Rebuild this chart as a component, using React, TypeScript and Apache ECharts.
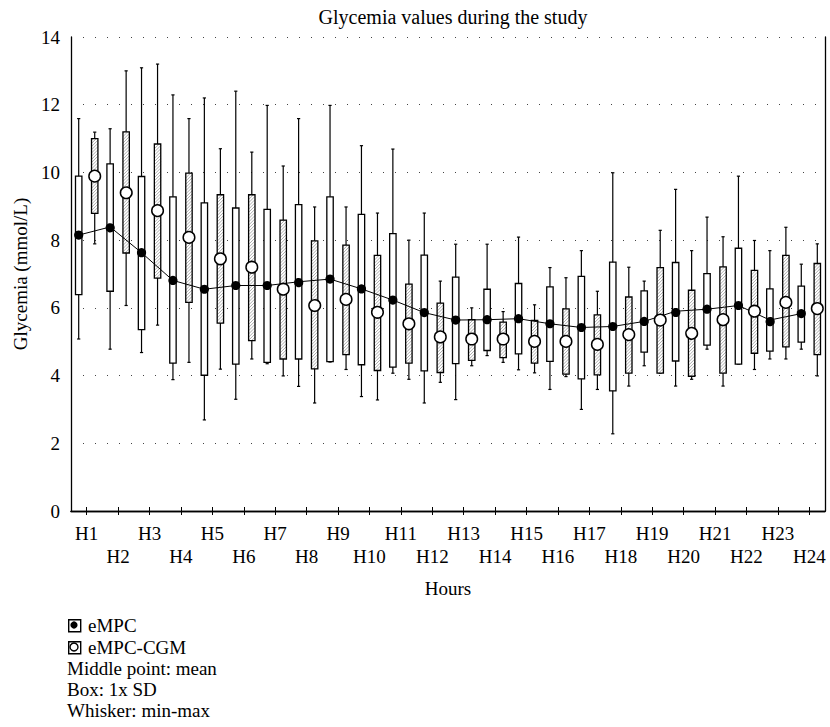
import React, { useEffect, useRef } from 'react';
import * as echarts from 'echarts';

const hours = ['H1','H2','H3','H4','H5','H6','H7','H8','H9','H10','H11','H12','H13','H14','H15','H16','H17','H18','H19','H20','H21','H22','H23','H24'];

// eMPC: whisker min, box low (mean - SD), mean, box high (mean + SD), whisker max
const empcMin  = [5.08, 4.78, 4.68, 3.88, 2.69, 3.30, 4.35, 3.68, 4.40, 3.38, 4.07, 3.19, 3.29, 4.59, 4.17, 3.59, 3.00, 2.28, 4.29, 3.69, 4.78, 4.34, 4.49, 4.78];
const empcLow  = [6.39, 6.49, 5.36, 4.37, 4.01, 4.34, 4.39, 4.49, 4.41, 4.32, 4.25, 4.14, 4.35, 4.74, 4.64, 4.42, 3.90, 3.55, 4.69, 4.43, 4.90, 4.34, 4.72, 4.99];
const empcMean = [8.15, 8.39, 7.63, 6.81, 6.55, 6.66, 6.66, 6.77, 6.85, 6.56, 6.23, 5.86, 5.64, 5.65, 5.68, 5.53, 5.42, 5.45, 5.60, 5.90, 5.96, 6.07, 5.64, 5.83];
const empcHigh = [9.89, 10.25, 9.88, 9.28, 9.10, 8.95, 8.91, 9.05, 9.28, 8.76, 8.19, 7.56, 6.91, 6.55, 6.72, 6.62, 6.93, 7.35, 6.50, 7.34, 7.01, 7.76, 6.56, 6.64];
const empcMax  = [11.59, 11.29, 13.09, 12.29, 12.20, 12.40, 11.98, 11.59, 11.98, 10.79, 10.69, 8.80, 7.88, 7.88, 8.09, 7.19, 7.69, 9.99, 6.79, 9.50, 8.68, 9.89, 7.69, 7.29];

// eMPC-CGM
const cgmMin  = [7.89, 6.07, 5.49, 4.39, 4.19, 4.49, 3.99, 3.19, 4.18, 3.28, 3.89, 3.80, 4.29, 4.39, 4.08, 3.97, 3.59, 3.69, 4.07, 3.89, 3.69, 4.18, 4.49, 3.99];
const cgmLow  = [8.79, 7.62, 6.88, 6.16, 5.55, 5.03, 4.49, 4.20, 4.62, 4.15, 4.37, 4.09, 4.45, 4.53, 4.37, 4.04, 4.02, 4.07, 4.07, 3.98, 4.07, 4.66, 4.85, 4.62];
const cgmMean = [9.89, 9.43, 8.87, 8.08, 7.45, 7.20, 6.55, 6.10, 6.25, 5.87, 5.53, 5.14, 5.08, 5.08, 5.01, 5.01, 4.92, 5.21, 5.64, 5.27, 5.65, 5.90, 6.16, 5.98];
const cgmHigh = [11.00, 11.20, 10.84, 9.98, 9.34, 9.34, 8.59, 7.98, 7.85, 7.55, 6.70, 6.14, 5.65, 5.58, 5.63, 5.97, 5.79, 6.32, 7.19, 6.52, 7.21, 7.11, 7.55, 7.31];
const cgmMax  = [11.19, 13.00, 13.20, 11.59, 10.70, 10.60, 10.19, 8.98, 8.98, 8.80, 8.00, 6.79, 6.00, 5.89, 6.09, 6.89, 6.49, 7.20, 8.29, 7.69, 8.10, 7.99, 8.38, 7.89];

const legendLines = ['Middle point: mean', 'Box: 1x SD', 'Whisker: min-max'];

const FONT = '"Liberation Serif", "Times New Roman", serif';
const FS = 19;

function hatch(x0: number, y0: number, x1: number, y1: number, step: number) {
  const segs: any[] = [];
  for (let c = x0 + y0 + step / 2; c < x1 + y1; c += step) {
    const xa = Math.max(x0, c - y1);
    const xb = Math.min(x1, c - y0);
    if (xb - xa > 0.2) {
      segs.push({
        type: 'line',
        z2: 2,
        silent: true,
        shape: { x1: xa, y1: c - xa, x2: xb, y2: c - xb },
        style: { stroke: '#999', lineWidth: 0.8 },
      });
    }
  }
  return segs;
}

function makeRender(kind: 'empc' | 'cgm') {
  return (params: any, api: any) => {
    const i = api.value(0);
    const band = api.size([1, 0])[0];
    const off = (kind === 'empc' ? -1 : 1) * band * 0.255;
    const cx = api.coord([i, 0])[0] + off;
    const yMin = api.coord([i, api.value(1)])[1];
    const yLow = api.coord([i, api.value(2)])[1];
    const yMean = api.coord([i, api.value(3)])[1];
    const yHigh = api.coord([i, api.value(4)])[1];
    const yMax = api.coord([i, api.value(5)])[1];
    const bw = 6.4;
    const cap = 1.6;
    const children: any[] = [
      { type: 'line', z2: 0, shape: { x1: cx, y1: yMax, x2: cx, y2: yMin }, style: { stroke: '#000', lineWidth: 1.2 } },
      { type: 'line', z2: 0, shape: { x1: cx - cap, y1: yMax, x2: cx + cap, y2: yMax }, style: { stroke: '#000', lineWidth: 1.2 } },
      { type: 'line', z2: 0, shape: { x1: cx - cap, y1: yMin, x2: cx + cap, y2: yMin }, style: { stroke: '#000', lineWidth: 1.2 } },
      { type: 'rect', z2: 1, shape: { x: cx - bw / 2, y: yHigh, width: bw, height: yLow - yHigh }, style: { fill: '#fff', stroke: 'none' } },
      { type: 'rect', z2: 3, shape: { x: cx - bw / 2, y: yHigh, width: bw, height: yLow - yHigh }, style: { fill: 'none', stroke: '#000', lineWidth: 1.3 } },
    ];
    if (kind === 'cgm') {
      children.push(...hatch(cx - bw / 2, yHigh, cx + bw / 2, yLow, 3.2));
      children.push({ type: 'circle', z2: 10, shape: { cx, cy: yMean, r: 5.8 }, style: { fill: '#fff', stroke: '#000', lineWidth: 1.5 } });
    } else {
      if (i > 0) {
        const p = api.coord([i - 1, empcMean[i - 1]]);
        children.push({ type: 'line', z2: 5, shape: { x1: p[0] + off, y1: p[1], x2: cx, y2: yMean }, style: { stroke: '#000', lineWidth: 1 } });
      }
      children.push({ type: 'circle', z2: 10, shape: { cx, cy: yMean, r: 4.6 }, style: { fill: '#000', stroke: 'none' } });
    }
    return { type: 'group', children };
  };
}

export default function App() {
  const ref = useRef<HTMLDivElement>(null);
  useEffect(() => {
    document.body.style.margin = '0';
    const chart = echarts.init(ref.current!, null, { renderer: 'svg' });
    const empcData = hours.map((_, i) => [i, empcMin[i], empcLow[i], empcMean[i], empcHigh[i], empcMax[i]]);
    const cgmData = hours.map((_, i) => [i, cgmMin[i], cgmLow[i], cgmMean[i], cgmHigh[i], cgmMax[i]]);
    const labelStyle = { fontFamily: FONT, fontSize: FS, color: '#000' };
    const legendY = [625, 647];
    chart.setOption({
      animation: false,
      backgroundColor: '#fff',
      title: {
        text: 'Glycemia values during the study',
        left: 448,
        top: 2,
        textAlign: 'center',
        textStyle: { fontFamily: FONT, fontSize: 20, fontWeight: 'normal', color: '#000' },
      },
      grid: { left: 71, right: 5, top: 37, bottom: 216 },
      xAxis: [
        {
          type: 'category',
          data: hours,
          position: 'bottom',
          boundaryGap: true,
          axisLine: { lineStyle: { color: '#000', width: 1.3 } },
          axisTick: { show: true, inside: true, alignWithLabel: true, length: 4, lineStyle: { color: '#000', width: 1 } },
          axisLabel: {
            interval: 0,
            margin: 11,
            lineHeight: 23,
            ...labelStyle,
            formatter: (v: string, idx: number) => (idx % 2 === 0 ? v : '\n' + v),
          },
          name: 'Hours',
          nameLocation: 'middle',
          nameGap: 68,
          nameTextStyle: { ...labelStyle },
          splitLine: { show: false },
        },
        {
          type: 'category',
          data: hours,
          position: 'top',
          boundaryGap: true,
          axisLine: { lineStyle: { color: '#000', width: 1.3 } },
          axisTick: { show: true, inside: true, alignWithLabel: true, length: 4, lineStyle: { color: '#000', width: 1 } },
          axisLabel: { show: false },
          splitLine: { show: false },
        },
      ],
      yAxis: [
        {
          type: 'value',
          min: 0,
          max: 14,
          interval: 2,
          position: 'left',
          axisLine: { show: true, lineStyle: { color: '#000', width: 1.3 } },
          axisTick: { show: false },
          axisLabel: { margin: 11, ...labelStyle },
          name: 'Glycemia (mmol/L)',
          nameLocation: 'middle',
          nameGap: 40,
          nameTextStyle: { ...labelStyle },
          splitLine: { show: true, lineStyle: { color: '#444', width: 1, type: [1, 11] } },
        },
        {
          type: 'value',
          min: 0,
          max: 14,
          interval: 2,
          position: 'right',
          axisLine: { show: true, lineStyle: { color: '#000', width: 1.3 } },
          axisTick: { show: false },
          axisLabel: { show: false },
          splitLine: { show: false },
        },
      ],
      series: [
        { name: 'eMPC', type: 'custom', renderItem: makeRender('empc'), data: empcData, encode: { x: 0, y: [1, 2, 3, 4, 5] }, z: 2 },
        { name: 'eMPC-CGM', type: 'custom', renderItem: makeRender('cgm'), data: cgmData, encode: { x: 0, y: [1, 2, 3, 4, 5] }, z: 2 },
      ],
      graphic: [
        { type: 'rect', left: 68, top: legendY[0] - 6, shape: { width: 12, height: 12 }, style: { fill: '#fff', stroke: '#000', lineWidth: 1.4 } },
        { type: 'circle', x: 74, y: legendY[0], shape: { cx: 0, cy: 0, r: 3.6 }, style: { fill: '#000' } },
        { type: 'text', x: 88, y: legendY[0], style: { text: 'eMPC', fontFamily: FONT, fontSize: FS, fill: '#000', textVerticalAlign: 'middle' } },
        { type: 'rect', left: 68, top: legendY[1] - 6, shape: { width: 12, height: 12 }, style: { fill: '#fff', stroke: '#000', lineWidth: 1.4 } },
        { type: 'circle', x: 74, y: legendY[1], shape: { cx: 0, cy: 0, r: 4 }, style: { fill: '#fff', stroke: '#000', lineWidth: 1.4 } },
        { type: 'text', x: 88, y: legendY[1], style: { text: 'eMPC-CGM', fontFamily: FONT, fontSize: FS, fill: '#000', textVerticalAlign: 'middle' } },
        ...legendLines.map((t, k) => ({
          type: 'text',
          x: 67,
          y: 668 + k * 21,
          style: { text: t, fontFamily: FONT, fontSize: FS, fill: '#000', textVerticalAlign: 'middle' },
        })),
      ],
    });
    return () => chart.dispose();
  }, []);
  return <div ref={ref} style={{ position: 'absolute', left: 0, top: 0, width: 830, height: 727 }} />;
}
